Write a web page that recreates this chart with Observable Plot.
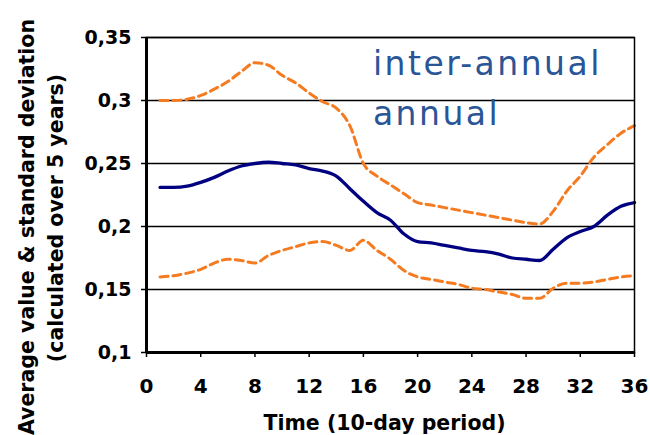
<!DOCTYPE html>
<html><head><meta charset="utf-8">
<script src="https://cdn.jsdelivr.net/npm/d3@7"></script>
<script src="https://cdn.jsdelivr.net/npm/@observablehq/plot@0.6"></script>
<style>body{margin:0;background:#fff}</style>
</head><body><div id="chart"></div>
<script>
const periods = [1,2,3,4,5,6,7,8,9,10,11,12,13,14,15,16,17,18,19,20,21,22,23,24,25,26,27,28,29,30,31,32,33,34,35,36];
const average = [0.231,0.231,0.232,0.235,0.239,0.244,0.248,0.250,0.251,0.250,0.249,0.246,0.244,0.240,0.230,0.220,0.211,0.205,0.194,0.188,0.187,0.185,0.183,0.181,0.180,0.178,0.175,0.174,0.173,0.182,0.191,0.196,0.200,0.209,0.216,0.219];
const upper = [0.300,0.300,0.301,0.304,0.309,0.315,0.323,0.330,0.328,0.320,0.314,0.306,0.299,0.294,0.280,0.250,0.240,0.233,0.226,0.219,0.217,0.215,0.213,0.211,0.209,0.207,0.205,0.203,0.202,0.212,0.228,0.240,0.255,0.265,0.274,0.280];
const lower = [0.160,0.161,0.163,0.166,0.171,0.174,0.173,0.171,0.177,0.181,0.184,0.187,0.188,0.185,0.181,0.189,0.181,0.174,0.165,0.160,0.158,0.156,0.154,0.151,0.150,0.148,0.146,0.143,0.143,0.151,0.155,0.155,0.156,0.158,0.160,0.161];
const xTicks = [0,4,8,12,16,20,24,28,32,36];
const yTicks = [0.1,0.15,0.2,0.25,0.3,0.35];
const annotations = ["inter-annual","annual"];
const annotationX = [16.7,16.7];
const annotationY = [0.3288,0.2886];
const xTitle = "Time (10-day period)";
const yTitle1 = "Average value & standard deviation";
const yTitle2 = "(calculated over 5 years)";

const rows = periods.map((p,i)=>({p, avg: average[i], up: upper[i], lo: lower[i]}));
const ann = annotations.map((t,i)=>({t, x: annotationX[i], y: annotationY[i]}));
const F = "DejaVu Sans";
const orange = "#f47b20", navy = "#000080";

const chart = Plot.plot({
  width: 650, height: 435,
  marginLeft: 146, marginRight: 16, marginTop: 37, marginBottom: 83,
  x: {domain: [0,36]},
  y: {domain: [0.1,0.35]},
  marks: [
    Plot.gridY(yTicks, {stroke: "#000", strokeOpacity: 1, strokeWidth: 1.3}),
    Plot.line(rows, {x: "p", y: "up", stroke: orange, strokeWidth: 3, strokeDasharray: "8,5", curve: "monotone-x"}),
    Plot.line(rows, {x: "p", y: "lo", stroke: orange, strokeWidth: 3, strokeDasharray: "8,5", curve: "monotone-x"}),
    Plot.line(rows, {x: "p", y: "avg", stroke: navy, strokeWidth: 3.3, curve: "monotone-x"}),
    Plot.frame({stroke: "#000", strokeWidth: 1.5}),
    Plot.ruleX([0], {stroke: "#000", strokeWidth: 3}),
    Plot.ruleY([0.1], {stroke: "#000", strokeWidth: 3}),
    Plot.axisY({ticks: yTicks, tickFormat: d => String(d).replace(".", ","), tickSize: 5, tickPadding: 10,
      fontSize: 19, fontWeight: "bold", fontFamily: F, label: null, stroke: "#000", strokeWidth: 1.5, fill: "#000"}),
    Plot.axisX({ticks: xTicks, tickFormat: d => String(d), tickSize: 5, tickPadding: 21,
      fontSize: 20, fontWeight: "bold", fontFamily: F, label: null, stroke: "#000", strokeWidth: 1.5, fill: "#000"}),
    Plot.text(ann, {x: "x", y: "y", text: "t", textAnchor: "start", lineAnchor: "middle",
      fontSize: 33, fontFamily: F, fill: "#2a5596"}),
    Plot.text([xTitle], {frameAnchor: "bottom", dy: 71, dx: -6, textAnchor: "middle", lineAnchor: "middle",
      fontSize: 20.5, fontWeight: "bold", fontFamily: F, fill: "#000"}),
    Plot.text([yTitle1], {frameAnchor: "left", rotate: -90, dx: -119, dy: 32, textAnchor: "middle", lineAnchor: "middle",
      fontSize: 20.5, fontWeight: "bold", fontFamily: F, fill: "#000"}),
    Plot.text([yTitle2], {frameAnchor: "left", rotate: -90, dx: -90, dy: 23, textAnchor: "middle", lineAnchor: "middle",
      fontSize: 20.5, fontWeight: "bold", fontFamily: F, fill: "#000"})
  ]
});
d3.select(chart).selectAll("text").filter(function(){ return annotations.includes(this.textContent); })
  .style("letter-spacing", "2.5px");
document.getElementById("chart").appendChild(chart);
</script>
</body></html>
